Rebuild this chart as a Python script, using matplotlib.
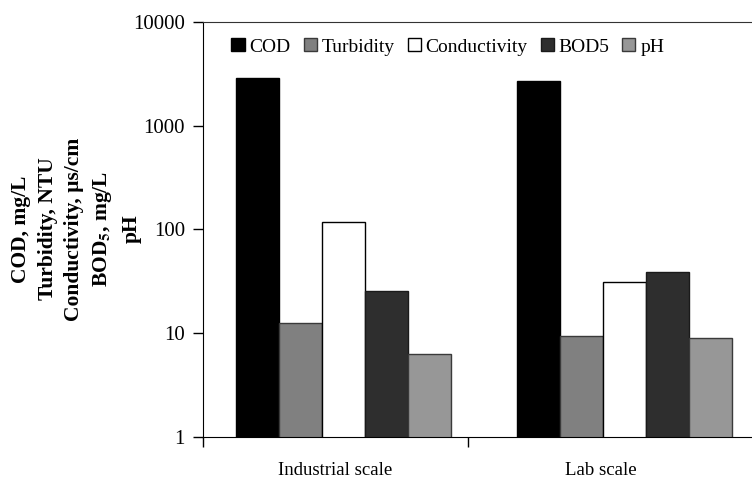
import numpy as np
import matplotlib
matplotlib.use("Agg")
import matplotlib.pyplot as plt

plt.rcParams['font.family'] = ['Liberation Serif', 'DejaVu Serif']
plt.rcParams['mathtext.fontset'] = 'stix'

# values per scale, read on a log axis
scales = ['Industrial scale', 'Lab scale']
params = ['COD', 'Turbidity', 'Conductivity', 'BOD5', 'pH']
cod = [2870, 2700]
turbidity = [12.6, 9.35]
conductivity = [119, 31]
bod5 = [25.4, 38.7]
ph = [6.3, 9.06]

values = [cod, turbidity, conductivity, bod5, ph]
colors = ['#000000', '#808080', '#ffffff', '#2e2e2e', '#979797']
edges = ['#000000', '#3a3a3a', '#000000', '#1a1a1a', '#3a3a3a']

fig = plt.figure(figsize=(7.52, 4.79), dpi=100)
ax = fig.add_axes([0.27, 0.0877, 0.73, 0.8664])
ax.set_yscale('log')

x = np.arange(len(scales))
width = 0.153
for i, (name, vals) in enumerate(zip(params, values)):
    ax.bar(x + (i - 2) * width, vals, width, color=colors[i],
           edgecolor=edges[i], linewidth=1.0, label=name)

ax.set_ylim(1, 10000)
ax.set_xlim(-0.5, 1.4537)
ax.set_yticks([1, 10, 100, 1000, 10000])
ax.set_yticklabels(['1', '10', '100', '1000', '10000'])
ax.yaxis.set_minor_locator(matplotlib.ticker.NullLocator())
ax.tick_params(axis='y', labelsize=15, length=7, width=1, pad=6)

# category separators as major ticks, names as minor ticks
cat_step = 0.943
ax.set_xticks([-0.5, -0.5 + cat_step])
ax.set_xticklabels([])
ax.set_xticks([-0.5 + cat_step * (k + 0.5) for k in range(len(scales))],
              minor=True)
ax.set_xticklabels(scales, minor=True)
ax.tick_params(axis='x', which='major', length=7, width=1)
ax.tick_params(axis='x', which='minor', length=0, labelsize=13.5, pad=18)

ax.spines['right'].set_visible(False)
for s in ['left', 'bottom']:
    ax.spines[s].set_color('black')
ax.spines['top'].set_color('#333333')

fig.text(76 / 752, 1 - 229 / 479,
         'COD, mg/L\nTurbidity, NTU\nConductivity, µs/cm\n'
         r'BOD$_\mathbf{5}$, mg/L' '\npH',
         rotation=90, ha='center', va='center', multialignment='center',
         fontsize=15.5, fontweight='bold', linespacing=1.45)

ax.legend(loc='center', bbox_to_anchor=(0.446, 0.94), ncol=5, frameon=False,
          fontsize=14, handlelength=0.67, handleheight=0.67,
          handletextpad=0.25, columnspacing=0.67, borderaxespad=0)

fig.savefig('out.png', dpi=100)
